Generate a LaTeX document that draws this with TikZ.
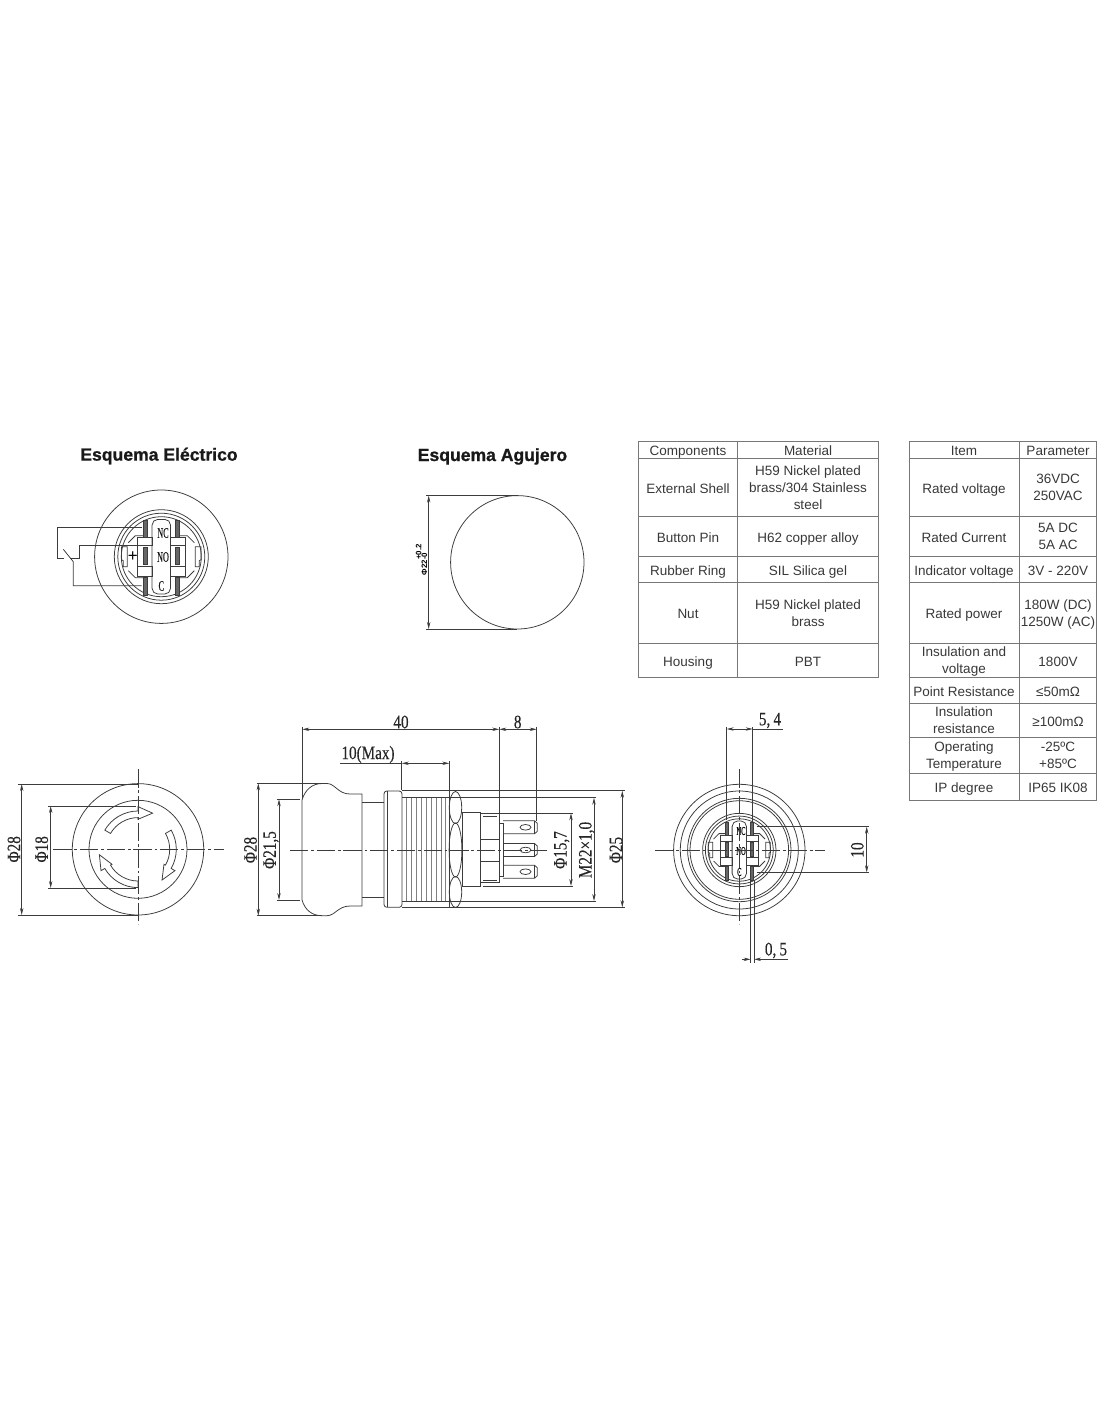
\documentclass[tikz,border=0pt]{standalone}
\usepackage{fontspec}
\setmainfont{Liberation Sans}
\newfontfamily\dimfont[FakeStretch=0.8,FakeBold=0.25]{Liberation Serif}
\newfontfamily\facefont[FakeStretch=0.55,FakeBold=0.2]{Liberation Serif}
\newfontfamily\titlefont[UprightFont=* Bold,FakeBold=1]{Liberation Sans}
\usetikzlibrary{arrows.meta}

\definecolor{inkline}{HTML}{3C3C3C}
\definecolor{tabletext}{HTML}{383838}
\definecolor{tableline}{HTML}{777777}

\tikzset{
    part/.style={draw=inkline, line width=0.55pt},
    centerline/.style={draw=inkline, line width=0.45pt, dash pattern=on 13pt off 2pt on 2pt off 2pt},
    extline/.style={draw=inkline, line width=0.45pt},
    threadline/.style={draw=black!50, line width=0.45pt},
    dimline/.style={draw=inkline, line width=0.45pt, {Stealth[length=5pt,width=2.4pt]}-{Stealth[length=5pt,width=2.4pt]}},
    pointline/.style={draw=inkline, line width=0.45pt, -{Stealth[length=5pt,width=2.4pt]}},
    dimtext/.style={text=black!85, inner sep=0pt, font=\dimfont\fontsize{13.5}{14}\selectfont},
    facetext/.style={text=black!90, inner sep=0pt, font=\facefont\fontsize{10.5}{10.5}\selectfont},
    backtext/.style={text=black, inner sep=0pt, font=\facefont\fontsize{8.5}{8.5}\selectfont},
    gridline/.style={draw=tableline, line width=0.55pt},
    cellbox/.style={text=tabletext, inner sep=0pt, align=center, yshift=-0.055cm, font=\fontsize{9.6}{12.1}\selectfont,
        execute at begin node={\strut}, execute at end node={\strut}},
    titlebox/.style={text=black!90, inner sep=0pt, font=\titlefont\fontsize{12.5}{15}\selectfont},
}

% terminal face of the switch, drawn around (0,0)
\newcommand{\termface}{
    \foreach \ringr in {47,43.5,40} \draw[part] (0,0) circle (\ringr);
    \draw[part, rounded corners=4] (-9.2,-37.3) rectangle (9.2,37.3);
    \foreach \sidex in {1,-1} {
        \begin{scope}[xscale=\sidex]
            \draw[part] (-24,19.3) rectangle (-9.2,11);
            \draw[part] (-24,-9.5) rectangle (-9.2,-20);
            \draw[part] (-24,11) -- (-24,-9.5);
            \draw[part] (-33,14) -- (-26,21) -- (-18,21);
            \draw[part] (-33,-14) -- (-26,-21) -- (-18,-21);
            \draw[part, fill=black!60] (-18,36) rectangle (-14,19.3);
            \draw[part, fill=black!60] (-18,9.3) rectangle (-14,-7.7);
            \draw[part, fill=black!60] (-18,-21) rectangle (-14,-38.3);
            \draw[part] (-39.7,10) -- (-34,10) -- (-34,-10) -- (-38,-10) -- (-38,-4) -- (-39.7,-3) -- cycle;
        \end{scope}
    }
}

\begin{document}
\begin{tikzpicture}[x=0.025cm,y=0.025cm]
    \useasboundingbox (0,0) rectangle (1100,-1422);

    % titles
    \node[titlebox] (elecTitle) at (159,-456) {Esquema Eléctrico};
    \node[titlebox] (holeTitle) at (492.5,-456.5) {Esquema Agujero};

    % wiring diagram
    \draw[part] (161.3,-556.7) circle (66.7);
    \begin{scope}[shift={(161.3,-556.7)}]
        \termface
    \end{scope}
    \draw[part] (141.7,-527.3) -- (57.7,-527.3) -- (57.7,-558.3) -- (64,-558.3);
    \draw[part] (63.3,-549.3) -- (73.3,-561.7) -- (73.3,-585.7) -- (141.7,-585.7);
    \draw[part] (70,-558.3) -- (79.3,-558.3) -- (79.3,-545) -- (145,-545);
    \node[facetext] (elecNC) at (163,-533) {NC};
    \node[facetext] (elecNO) at (163,-557) {NO};
    \node[facetext] (elecC) at (161.3,-586) {C};
    \node[inner sep=0pt, font=\fontsize{12}{12}\selectfont] (elecPlus) at (132.7,-557) {+};

    % hole
    \draw[part] (517.3,-562.3) circle (66.7);
    \draw[extline] (426,-495.6) -- (517.3,-495.6);
    \draw[extline] (426,-629) -- (517.3,-629);
    \draw[dimline] (428.7,-495.6) -- (428.7,-629);
    \node[rotate=90, inner sep=0pt, font=\bfseries\fontsize{5.6}{6}\selectfont] (holeDim) at (421.5,-564) {Φ22\rlap{\raisebox{4pt}{+0.2}}-0};

    % front view
    \draw[part] (138,-849.3) circle (65.7);
    \draw[part] (138,-849.3) circle (49);
    \begin{scope}[shift={(138,-849.3)}]
        \foreach \turn in {0,-120,-240} {
            \begin{scope}[rotate=\turn]
                \draw[part] (150:38.3) arc[start angle=150, end angle=90, radius=38.3] -- (90:42.7) -- (68:39) -- (90:30) -- (90:31.7) arc[start angle=90, end angle=150, radius=31.7] -- cycle;
            \end{scope}
        }
    \end{scope}
    \draw[centerline] (138,-769.3) -- (138,-924);
    \draw[centerline] (53.3,-849.3) -- (224,-849.3);
    \draw[extline] (18.3,-784) -- (138,-784);
    \draw[extline] (18.3,-915) -- (138,-915);
    \draw[dimline] (21.7,-784) -- (21.7,-915);
    \draw[extline] (48.3,-806) -- (136,-806);
    \draw[extline] (48.3,-888) -- (136,-888);
    \draw[dimline] (50.7,-806) -- (50.7,-888);
    \node[dimtext, rotate=90] (frontOuter) at (14,-849.3) {Φ28};
    \node[dimtext, rotate=90] (frontInner) at (41.7,-849.3) {Φ18};

    % side view
    \draw[part] (302,-800) .. controls (305,-790) and (312,-783.5) .. (322,-783.5) -- (327,-783.5) .. controls (335,-783.5) and (338,-794) .. (350,-794) -- (362,-794) -- (362,-906) -- (350,-906) .. controls (338,-906) and (335,-915.7) .. (327,-915.7) -- (322,-915.7) .. controls (312,-915.7) and (305,-910) .. (302,-900) -- cycle;
    \draw[part] (362,-802) -- (384,-802);
    \draw[part] (362,-897) -- (384,-897);
    \draw[part, rounded corners=2] (402,-791) -- (384,-791) -- (384,-907.3) -- (402,-907.3) -- cycle;
    \draw[part] (387.7,-791) -- (387.7,-907.3);
    \foreach \threadx in {406,411,416,421,426,431,436,441,445} \draw[threadline] (\threadx,-798) -- (\threadx,-901);
    \draw[part] (449.3,-791) -- (449.3,-907.3);
    \draw[part] (455.5,-807.5) ellipse [x radius=6.2, y radius=16];
    \draw[part] (455.5,-850) ellipse [x radius=6.4, y radius=27];
    \draw[part] (455.5,-892) ellipse [x radius=6.2, y radius=15.5];
    \draw[part] (462.7,-812.7) rectangle (480.7,-886);
    \draw[part] (480.7,-813) rectangle (499.3,-882.7);
    \draw[part] (483,-816) -- (497,-816);
    \draw[part] (483,-880) -- (497,-880);
    \draw[part] (480.7,-839.3) -- (499.3,-839.3);
    \draw[part] (480.7,-861) -- (499.3,-861);
    \draw[part] (499.3,-823) rectangle (503.3,-876.5);
    \foreach \bladey in {-827.3,-850,-871.7} {
        \begin{scope}[shift={(0,\bladey)}]
            \draw[part] (503,6.5) -- (534.5,6.5) -- (537.3,4) -- (537.3,-4) -- (534.5,-6.5) -- (503,-6.5);
            \draw[part] (534.5,6.5) -- (534.5,-6.5);
            \draw[part] (525.5,0) ellipse [x radius=5.5, y radius=2.8];
        \end{scope}
    }
    \draw[centerline] (290,-850) -- (547,-850);

    \draw[extline] (402,-790.7) -- (625,-790.7);
    \draw[extline] (402,-907.3) -- (625,-907.3);
    \draw[extline] (402,-797.7) -- (596,-797.7);
    \draw[extline] (402,-901) -- (596,-901);
    \draw[extline] (483.3,-813.3) -- (573.3,-813.3);
    \draw[extline] (483.3,-886) -- (573.3,-886);
    \draw[extline] (302.3,-726.7) -- (302.3,-799);
    \draw[extline] (499.3,-726.7) -- (499.3,-813);
    \draw[extline] (536.7,-726.7) -- (536.7,-821);
    \draw[extline] (401.7,-761) -- (401.7,-790);
    \draw[extline] (449.3,-761) -- (449.3,-791);
    \draw[extline] (256.7,-783.3) -- (322,-783.3);
    \draw[extline] (256.7,-915.7) -- (322,-915.7);
    \draw[extline] (276.7,-799.3) -- (300,-799.3);
    \draw[extline] (276.7,-900) -- (300,-900);
    \draw[extline] (340,-763.3) -- (401.7,-763.3);
    \draw[dimline] (302.3,-729.3) -- (499.3,-729.3);
    \draw[dimline] (499.3,-729.3) -- (536.7,-729.3);
    \draw[dimline] (401.7,-763.3) -- (449.3,-763.3);
    \draw[dimline] (258.3,-783.3) -- (258.3,-915.7);
    \draw[dimline] (279,-799.3) -- (279,-900);
    \draw[dimline] (571,-813.3) -- (571,-886);
    \draw[dimline] (594,-797.7) -- (594,-901);
    \draw[dimline] (622.3,-790.7) -- (622.3,-907.3);
    \node[dimtext] (sideLength) at (401,-722) {40};
    \node[dimtext] (sidePins) at (517.7,-722) {8};
    \node[dimtext] (sidePanel) at (368,-754.5) {10(Max)};
    \node[dimtext, rotate=90] (sideHead) at (250.5,-850) {Φ28};
    \node[dimtext, rotate=90] (sideCap) at (271,-850) {Φ21,5};
    \node[dimtext, rotate=90] (sideBody) at (561.7,-850) {Φ15,7};
    \node[dimtext, rotate=90] (sideThread) at (586.7,-850) {M22×1,0};
    \node[dimtext, rotate=90] (sideFlange) at (616,-850) {Φ25};

    % back view
    \foreach \ringr in {65.7,59,51.7,49.3} \draw[part] (739.3,-850) circle (\ringr);
    \begin{scope}[shift={(739.3,-850)}, scale=0.78]
        \termface
    \end{scope}
    \node[backtext] (backNC) at (741,-831) {NC};
    \node[backtext] (backNO) at (741,-851) {NO};
    \node[backtext] (backC) at (739.3,-872) {C};
    \draw[centerline] (739.3,-769.3) -- (739.3,-924);
    \draw[centerline] (655,-850) -- (825,-850);
    \draw[extline] (726.7,-726.7) -- (726.7,-820);
    \draw[extline] (752.7,-726.7) -- (752.7,-822);
    \draw[extline] (750.7,-880) -- (750.7,-963);
    \draw[extline] (754,-880) -- (754,-963);
    \draw[extline] (756.7,-826.7) -- (869,-826.7);
    \draw[extline] (756.7,-872.3) -- (869,-872.3);
    \draw[dimline] (726.7,-729) -- (752.7,-729);
    \draw[extline] (752.7,-729) -- (783.3,-729);
    \draw[pointline] (741.7,-959.3) -- (750.7,-959.3);
    \draw[pointline] (788.3,-959.3) -- (754,-959.3);
    \draw[dimline] (866.7,-826.7) -- (866.7,-872.3);
    \node[dimtext] (backPitch) at (770,-720.5) {5,\,4};
    \node[dimtext] (backGap) at (776,-950.5) {0,\,5};
    \node[dimtext, rotate=90] (backSpan) at (857.3,-850) {10};

    % materials table
    \draw[gridline] (638.3,-441.7) rectangle (878,-677.5);
    \draw[gridline] (737.7,-441.7) -- (737.7,-677.5);
    \foreach \rowy in {458.7,516.3,556.3,582.7,643.7} \draw[gridline] (638.3,-\rowy) -- (878,-\rowy);
    \node[cellbox] (compHead) at (688,-450) {Components};
    \node[cellbox] (matHead) at (808,-450) {Material};
    \node[cellbox] (compShell) at (688,-487.5) {External Shell};
    \node[cellbox] (matShell) at (808,-487.5) {H59 Nickel plated\\brass/304 Stainless\\steel};
    \node[cellbox] (compPin) at (688,-536.5) {Button Pin};
    \node[cellbox] (matPin) at (808,-536.5) {H62 copper alloy};
    \node[cellbox] (compRing) at (688,-569.5) {Rubber Ring};
    \node[cellbox] (matRing) at (808,-569.5) {SIL Silica gel};
    \node[cellbox] (compNut) at (688,-613) {Nut};
    \node[cellbox] (matNut) at (808,-613) {H59 Nickel plated\\brass};
    \node[cellbox] (compHousing) at (688,-660.5) {Housing};
    \node[cellbox] (matHousing) at (808,-660.5) {PBT};

    % parameter table
    \draw[gridline] (909.3,-441.7) rectangle (1096.7,-800);
    \draw[gridline] (1019.3,-441.7) -- (1019.3,-800);
    \foreach \rowy in {458.7,516.3,556.3,582.7,643.7,677.7,703.7,737.7,773.7} \draw[gridline] (909.3,-\rowy) -- (1096.7,-\rowy);
    \node[cellbox] (itemHead) at (964,-450) {Item};
    \node[cellbox] (parHead) at (1058,-450) {Parameter};
    \node[cellbox] (itemVolt) at (964,-487.5) {Rated voltage};
    \node[cellbox] (parVolt) at (1058,-487.5) {36VDC\\250VAC};
    \node[cellbox] (itemCurr) at (964,-536.5) {Rated Current};
    \node[cellbox] (parCurr) at (1058,-536.5) {5A DC\\5A AC};
    \node[cellbox] (itemInd) at (964,-569.5) {Indicator voltage};
    \node[cellbox] (parInd) at (1058,-569.5) {3V - 220V};
    \node[cellbox] (itemPow) at (964,-613) {Rated power};
    \node[cellbox] (parPow) at (1058,-613) {180W (DC)\\1250W (AC)};
    \node[cellbox] (itemIns) at (964,-660.7) {Insulation and\\voltage};
    \node[cellbox] (parIns) at (1058,-660.7) {1800V};
    \node[cellbox] (itemPoint) at (964,-690.7) {Point Resistance};
    \node[cellbox] (parPoint) at (1058,-690.7) {≤50mΩ};
    \node[cellbox] (itemRes) at (964,-720.7) {Insulation\\resistance};
    \node[cellbox] (parRes) at (1058,-720.7) {≥100mΩ};
    \node[cellbox] (itemTemp) at (964,-755.7) {Operating\\Temperature};
    \node[cellbox] (parTemp) at (1058,-755.7) {-25ºC\\+85ºC};
    \node[cellbox] (itemIP) at (964,-787) {IP degree};
    \node[cellbox] (parIP) at (1058,-787) {IP65 IK08};
\end{tikzpicture}
\end{document}
